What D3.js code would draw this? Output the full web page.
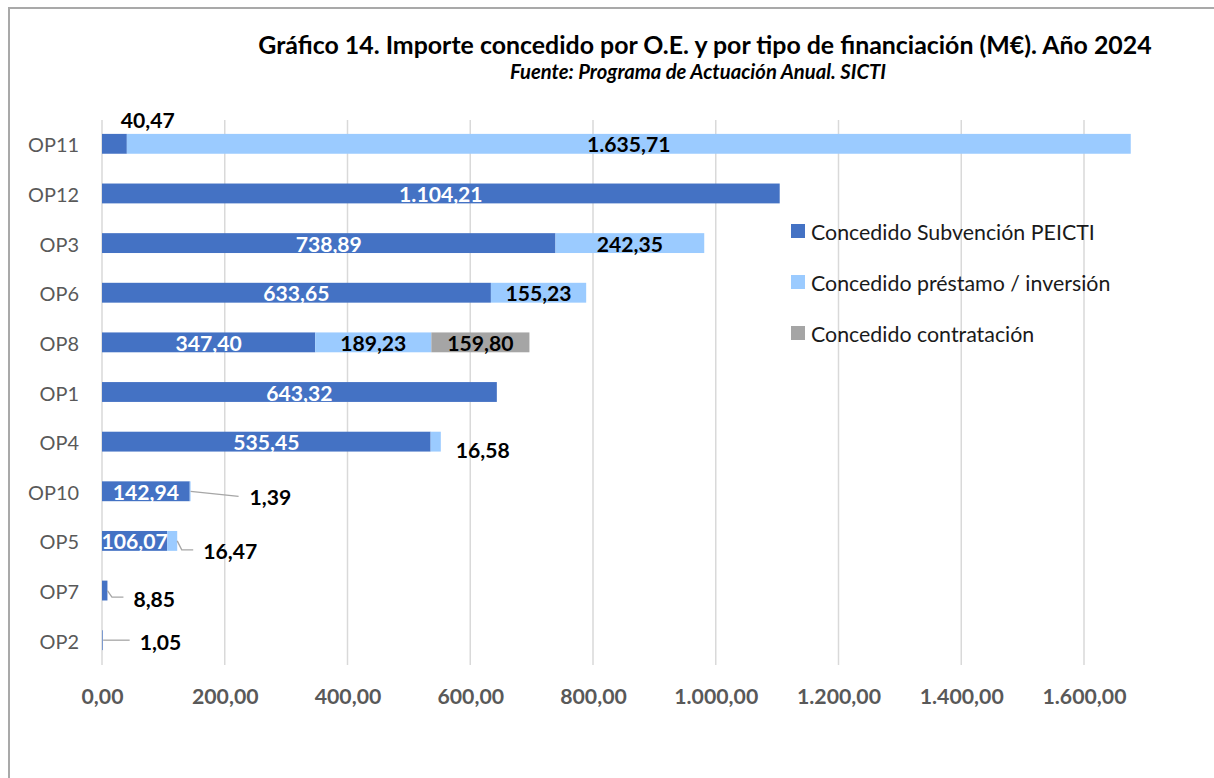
<!DOCTYPE html>
<html><head><meta charset="utf-8">
<script src="https://cdn.jsdelivr.net/npm/d3@7"></script>
<style>html,body{margin:0;padding:0;background:#fff;}svg{display:block;font-family:Lato,"Open Sans",sans-serif;}</style>
</head><body>
<svg id="c" width="1214" height="778"></svg>
<script>
// ---- data ----
const categories = ["OP11","OP12","OP3","OP6","OP8","OP1","OP4","OP10","OP5","OP7","OP2"];
const subvencion = [40.47, 1104.21, 738.89, 633.65, 347.40, 643.32, 535.45, 142.94, 106.07, 8.85, 1.05];
const prestamo   = [1635.71, 0, 242.35, 155.23, 189.23, 0, 16.58, 1.39, 16.47, 0, 0];
const contratacion = [0, 0, 0, 0, 159.80, 0, 0, 0, 0, 0, 0];
const seriesNames = ["Concedido Subvención PEICTI", "Concedido préstamo / inversión", "Concedido contratación"];
const xTicks = [0, 200, 400, 600, 800, 1000, 1200, 1400, 1600];
const titleText = "Gráfico 14. Importe concedido por O.E. y por tipo de financiación (M€). Año 2024";
const subtitleText = "Fuente: Programa de Actuación Anual. SICTI";

// ---- styles / layout ----
const colors = ["#4472C4", "#9BCBFF", "#A5A5A5"];
const labelColors = ["#ffffff", "#000000", "#000000"];
const m = {left: 102, right: 1084, top: 120, bottom: 665};
// labels positioned outside their segment: [seriesIndex, category, dx from bar end to label start (or centre), dy, leader points relative to bar end]
const outsideLabels = [
  {s:0, cat:"OP11", dx:21, dy:-24, anchor:"middle", leader:null},
  {s:1, cat:"OP4",  dx:15, dy:8, anchor:"start", leader:null},
  {s:1, cat:"OP10", dx:59, dy:6, anchor:"start", leader:[[0,0],[48,5]]},
  {s:1, cat:"OP5",  dx:26, dy:10, anchor:"start", leader:[[0,0],[4.5,9],[16,9]]},
  {s:0, cat:"OP7",  dx:26, dy:8, anchor:"start", leader:[[0,0],[4.5,6.5],[16,6.5]]},
  {s:0, cat:"OP2",  dx:37, dy:1.5, anchor:"start", leader:[[0.5,0],[27,0]]}
];

const svg = d3.select("#c");
const loc = d3.formatLocale({decimal:",", thousands:".", grouping:[3], currency:["","€"]});
const fmt = loc.format(",.2f");

function fitSize(sel, target){
  const w = sel.node().getComputedTextLength();
  const fs = parseFloat(sel.attr("font-size"));
  return fs * target / w;
}

// frame
svg.append("path").attr("d","M9,778V8H1214").attr("fill","none").attr("stroke","#a9a9a9").attr("stroke-width",2);

const x = d3.scaleLinear().domain([0,1600]).range([m.left, m.right]);
const y = d3.scaleBand().domain(categories).range([m.top-1, m.bottom]).paddingInner(0.6).paddingOuter(0.3);

// grid
svg.append("g").selectAll("line").data(xTicks).join("line")
  .attr("x1", d=>x(d)).attr("x2", d=>x(d)).attr("y1", m.top).attr("y2", m.bottom)
  .attr("stroke", "#d9d9d9").attr("stroke-width", 1.5);

// stacked data
const rows = categories.map((c,i)=>({cat:c, v:[subvencion[i], prestamo[i], contratacion[i]]}));
const stack = d3.stack().keys([0,1,2]).value((d,k)=>d.v[k]);
const stacked = stack(rows);

const barG = svg.append("g");
stacked.forEach((layer, si)=>{
  barG.selectAll(null).data(layer.filter(d=>d[1]-d[0]>0)).join("rect")
    .attr("x", d=>x(d[0])).attr("width", d=>x(d[1])-x(d[0]))
    .attr("y", d=>y(d.data.cat)).attr("height", y.bandwidth())
    .attr("fill", colors[si]);
});

// data label size: fit "40,47" to ~54px
const probe = svg.append("text").attr("font-size",20).attr("font-weight","bold").text("40,47");
const labelFS = fitSize(probe, 54); probe.remove();

const labG = svg.append("g").attr("font-weight","bold").attr("font-size", labelFS);
const isOutside = (si,cat)=>outsideLabels.find(o=>o.s===si && o.cat===cat);
stacked.forEach((layer, si)=>{
  layer.forEach(d=>{
    const val = d[1]-d[0];
    if(!(val>0)) return;
    const cy = y(d.data.cat) + y.bandwidth()/2;
    const o = isOutside(si, d.data.cat);
    if(o){
      const ex = x(d[1]);
      if(o.leader){
        labG.append("polyline")
          .attr("points", o.leader.map(p=>[ex+p[0], cy+p[1]].join(",")).join(" "))
          .attr("fill","none").attr("stroke","#a6a6a6").attr("stroke-width",1.3);
      }
      labG.append("text").attr("x", ex+o.dx).attr("y", cy+o.dy)
        .attr("text-anchor", o.anchor).attr("dominant-baseline","central")
        .attr("fill","#000").text(fmt(val));
    } else {
      labG.append("text").attr("x", (x(d[0])+x(d[1]))/2).attr("y", cy+0.5)
        .attr("text-anchor","middle").attr("dominant-baseline","central")
        .attr("fill", labelColors[si]).text(fmt(val));
    }
  });
});

// category labels
const cp = svg.append("text").attr("font-size",20).text("OP11");
const catFS = fitSize(cp, 51); cp.remove();
svg.append("g").selectAll("text").data(categories).join("text")
  .attr("x", 79).attr("y", d=>y(d)+y.bandwidth()/2+0.5)
  .attr("text-anchor","end").attr("dominant-baseline","central")
  .attr("font-size", catFS).attr("fill","#595959").text(d=>d);

// x axis labels
const tp = svg.append("text").attr("font-size",20).attr("font-weight","bold").text("0,00");
const tickFS = fitSize(tp, 42); tp.remove();
const axis = d3.axisBottom(x).tickValues(xTicks).tickFormat(fmt).tickSize(0).tickPadding(0);
const ag = svg.append("g").attr("transform", `translate(0,${m.bottom+31})`).call(axis);
ag.select(".domain").remove();
ag.selectAll("text").attr("font-family","Lato,'Open Sans',sans-serif").attr("font-size", tickFS)
  .attr("font-weight","bold").attr("fill","#595959").attr("dy", null).attr("dominant-baseline","central");

// legend
const lg = svg.append("g");
const lp = svg.append("text").attr("font-size",20).text(seriesNames[0]);
const legFS = fitSize(lp, 284); lp.remove();
seriesNames.forEach((n,i)=>{
  const cy = 231 + i*51;
  lg.append("rect").attr("x",791).attr("y",cy-7).attr("width",14).attr("height",14).attr("fill",colors[i]);
  lg.append("text").attr("x",811).attr("y",cy+0.5).attr("dominant-baseline","central")
    .attr("font-size",legFS).attr("fill","#1a1a1a").text(n);
});

// title
const t = svg.append("text").attr("x",705).attr("y",44).attr("text-anchor","middle")
  .attr("dominant-baseline","central").attr("font-weight","bold").attr("font-size",20).attr("fill","#000").text(titleText);
t.attr("font-size", fitSize(t, 894));
const st = svg.append("text").attr("x",698).attr("y",71).attr("text-anchor","middle")
  .attr("dominant-baseline","central").attr("font-weight","bold").attr("font-style","italic").attr("font-size",15).attr("fill","#000").text(subtitleText);
st.attr("font-size", fitSize(st, 376));
</script>
</body></html>
